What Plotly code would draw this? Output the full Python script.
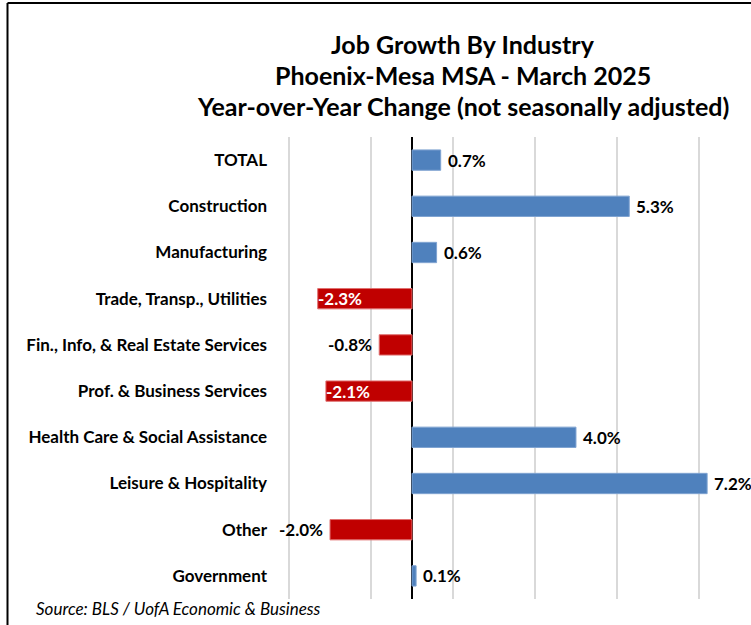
import plotly.graph_objects as go

categories = ["TOTAL", "Construction", "Manufacturing", "Trade, Transp., Utilities",
              "Fin., Info, & Real Estate Services", "Prof. & Business Services",
              "Health Care & Social Assistance", "Leisure & Hospitality", "Other", "Government"]
values = [0.7, 5.3, 0.6, -2.3, -0.8, -2.1, 4.0, 7.2, -2.0, 0.1]
labels = ["0.7%", "5.3%", "0.6%", "-2.3%", "-0.8%", "-2.1%", "4.0%", "7.2%", "-2.0%", "0.1%"]
inside_label = [False, False, False, True, False, True, False, False, False, False]

title_lines = ["Job Growth By Industry", "Phoenix-Mesa MSA - March 2025",
               "Year-over-Year Change (not seasonally adjusted)"]
source_text = "Source: BLS / UofA Economic & Business"

W, H = 751, 625
L, R, T, B = 288, 0, 137, 26
PH = H - T - B
PW = W - L - R

def py(p):
    return (H - B - p) / PH

def px(p):
    return (p - L) / PW

FONT = "Lato"
BLUE = "#4F81BD"
RED = "#C00000"

colors = [BLUE if v >= 0 else RED for v in values]
line_colors = ["#7FA3D1" if v >= 0 else "#E07070" for v in values]

fig = go.Figure()
fig.add_trace(go.Bar(
    y=categories, x=values, orientation="h",
    marker=dict(color=colors, line=dict(color=line_colors, width=1)),
    width=0.44, hoverinfo="skip",
))

annotations = []
for c, v, lab, ins in zip(categories, values, labels, inside_label):
    if ins:
        annotations.append(dict(x=v, y=c, xref="x", yref="y", text=lab, showarrow=False,
                                xanchor="left", xshift=-2,
                                font=dict(family=FONT, size=17, color="white", weight="bold")))
    elif v >= 0:
        annotations.append(dict(x=v, y=c, xref="x", yref="y", text=lab, showarrow=False,
                                xanchor="left", xshift=5,
                                font=dict(family=FONT, size=17, color="black", weight="bold")))
    else:
        annotations.append(dict(x=v, y=c, xref="x", yref="y", text=lab, showarrow=False,
                                xanchor="right", xshift=-5,
                                font=dict(family=FONT, size=17, color="black", weight="bold")))

for i, (t, yp) in enumerate(zip(title_lines, [44, 75, 106])):
    annotations.append(dict(x=px(463), y=py(yp), xref="paper", yref="paper", text=t,
                            showarrow=False, xanchor="center", yanchor="middle",
                            font=dict(family=FONT, size=25, color="black", weight="bold")))

annotations.append(dict(x=px(34), y=py(608), xref="paper", yref="paper", text="<i>" + source_text + "</i>",
                        showarrow=False, xanchor="left", yanchor="middle",
                        font=dict(family=FONT, size=17, color="black")))

shapes = [
    dict(type="line", xref="paper", yref="paper", x0=px(7.5), x1=px(7.5), y0=py(3), y1=py(H + 5),
         line=dict(color="black", width=2)),
    dict(type="line", xref="paper", yref="paper", x0=px(7.5), x1=px(W + 5), y0=py(3), y1=py(3),
         line=dict(color="black", width=2)),
]

fig.update_layout(
    width=W, height=H,
    margin=dict(l=L, r=R, t=T, b=B, pad=0),
    paper_bgcolor="white", plot_bgcolor="white",
    showlegend=False,
    annotations=annotations,
    shapes=shapes,
    xaxis=dict(range=[-3.025, 8.27], tick0=-3, dtick=2, showticklabels=False,
               showgrid=True, gridcolor="#D9D9D9", gridwidth=1.5,
               zeroline=True, zerolinecolor="black", zerolinewidth=1.5,
               showline=False, fixedrange=True),
    yaxis=dict(categoryorder="array", categoryarray=categories, autorange="reversed",
               showgrid=False, zeroline=False, showline=False, ticks="",
               ticklabelstandoff=20,
               tickfont=dict(family=FONT, size=17, color="black", weight="bold"),
               fixedrange=True),
)

fig.write_html("out.html", config={"displayModeBar": False},
               post_script="document.body.style.margin='0px';")
